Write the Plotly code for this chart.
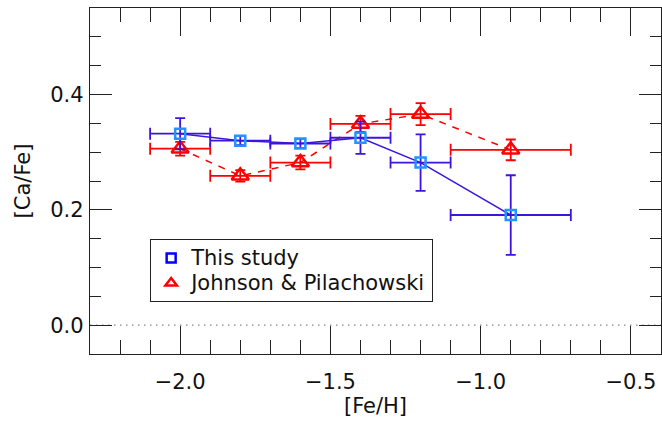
import plotly.graph_objects as go

# This study
fe_this = [-2.0, -1.8, -1.6, -1.4, -1.2, -0.9]
ca_this = [0.332, 0.320, 0.315, 0.325, 0.282, 0.191]
ca_this_err = [0.027, 0.008, 0.008, 0.028, 0.049, 0.069]
fe_this_err = [0.1, 0.1, 0.1, 0.1, 0.1, 0.2]

# Johnson & Pilachowski
fe_jp = [-2.0, -1.8, -1.6, -1.4, -1.2, -0.9]
ca_jp = [0.306, 0.259, 0.282, 0.349, 0.366, 0.304]
ca_jp_err = [0.012, 0.010, 0.012, 0.014, 0.019, 0.018]
fe_jp_err = [0.1, 0.1, 0.1, 0.1, 0.1, 0.2]

series_names = ["This study", "Johnson & Pilachowski"]
x_ticks = [-2.0, -1.5, -1.0, -0.5]
y_ticks = [0.0, 0.2, 0.4]

BLUE_LINE = "#3c14dc"
BLUE_MARK = "#2394ff"
RED = "#ff0000"
FONT = "DejaVu Sans"

fig = go.Figure()

fig.add_trace(go.Scatter(
    x=fe_jp, y=ca_jp, mode="lines+markers", showlegend=False,
    line=dict(color=RED, width=1.5, dash="7px,7px"),
    marker=dict(symbol="triangle-up-open", size=15, color=RED, line=dict(color=RED, width=2.5)),
    error_x=dict(type="data", array=fe_jp_err, color=RED, thickness=1.8, width=6),
    error_y=dict(type="data", array=ca_jp_err, color=RED, thickness=1.8, width=5),
))

fig.add_trace(go.Scatter(
    x=fe_this, y=ca_this, mode="lines+markers", showlegend=False,
    line=dict(color=BLUE_LINE, width=1.5),
    marker=dict(symbol="square-open", size=10, color=BLUE_MARK, line=dict(color=BLUE_MARK, width=2.5)),
    error_x=dict(type="data", array=fe_this_err, color=BLUE_LINE, thickness=1.8, width=6),
    error_y=dict(type="data", array=ca_this_err, color=BLUE_LINE, thickness=1.8, width=5),
))

# legend entries
fig.add_trace(go.Scatter(
    x=[None], y=[None], mode="markers",
    name='<span style="font-size:21px">' + series_names[0] + '</span>',
    marker=dict(symbol="square-open", size=9, color="#0000ff", line=dict(color="#0000ff", width=2.5)),
))
fig.add_trace(go.Scatter(
    x=[None], y=[None], mode="markers",
    name='<span style="font-size:21px">' + series_names[1] + '</span>',
    marker=dict(symbol="triangle-up-open", size=10, color=RED, line=dict(color=RED, width=2.5)),
))

fig.add_shape(type="line", xref="paper", x0=0, x1=1, yref="y", y0=0, y1=0,
              line=dict(color="#888888", width=1.2, dash="1.5px,4.5px"), layer="below")

axis_common = dict(
    showgrid=False, zeroline=False, showline=True, linecolor="#222222", linewidth=1.3,
    mirror="ticks", ticks="inside", tickcolor="#222222", tickwidth=1.2,
    tickfont=dict(family=FONT, size=21, color="#111111"),
)

fig.update_xaxes(
    range=[-2.3, -0.4], tickmode="array", tickvals=x_ticks, tickformat=".1f",
    ticklen=28, ticklabelstandoff=9,
    minor=dict(dtick=0.1, tick0=0, ticklen=14, tickwidth=1.2, tickcolor="#222222", ticks="inside", showgrid=False),
    title=dict(text="[Fe/H]", font=dict(family=FONT, size=21, color="#111111"), standoff=4),
    **axis_common,
)
fig.update_yaxes(
    range=[-0.05, 0.55], tickmode="array", tickvals=y_ticks, tickformat=".1f",
    ticklen=22, ticklabelstandoff=1,
    minor=dict(dtick=0.05, tick0=0, ticklen=11, tickwidth=1.2, tickcolor="#222222", ticks="inside", showgrid=False),
    title=dict(text="[Ca/Fe]", font=dict(family=FONT, size=21, color="#111111"), standoff=13),
    **axis_common,
)

fig.update_layout(
    width=662, height=426,
    margin=dict(l=90, r=1, t=8, b=72, autoexpand=False),
    paper_bgcolor="white", plot_bgcolor="white",
    legend=dict(
        x=0.105, y=0.332, xanchor="left", yanchor="top",
        bordercolor="#222222", borderwidth=1.2, bgcolor="white",
        font=dict(family=FONT, size=17, color="#111111"),
        itemwidth=30, tracegroupgap=0,
    ),
)

fig.write_html("out.html", config={"displayModeBar": False},
               post_script=["document.body.style.margin='0';"])
